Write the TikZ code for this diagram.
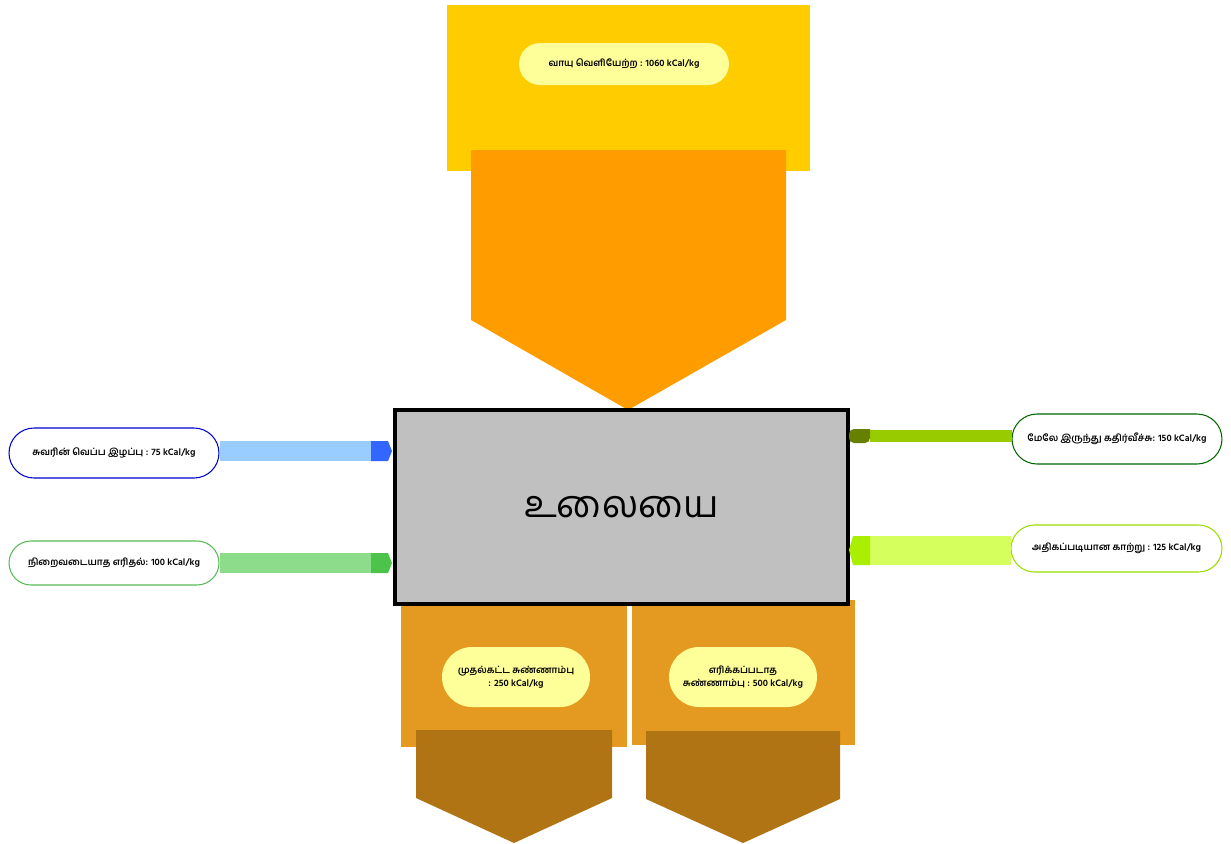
\documentclass[tikz,border=0pt]{standalone}
\usepackage{fontspec}
\newfontfamily\tamil[Script=Tamil]{Hind Madurai}
\usetikzlibrary{positioning}

\definecolor{furnyellow}{HTML}{FFCC00}
\definecolor{furnorange}{HTML}{FF9C00}
\definecolor{pillyellow}{HTML}{FFFF99}
\definecolor{furngrey}{HTML}{C0C0C0}
\definecolor{limeochre}{HTML}{E49A20}
\definecolor{limebrown}{HTML}{B07414}
\definecolor{wallshaft}{HTML}{99CCFF}
\definecolor{wallhead}{HTML}{3366FF}
\definecolor{wallline}{HTML}{0000CC}
\definecolor{burnshaft}{HTML}{8CDC8C}
\definecolor{burnhead}{HTML}{4CC44C}
\definecolor{burnline}{HTML}{55BB55}
\definecolor{radshaft}{HTML}{99CC00}
\definecolor{radhead}{HTML}{668000}
\definecolor{radline}{HTML}{006600}
\definecolor{airshaft}{HTML}{D4FF5C}
\definecolor{airhead}{HTML}{AAEE00}
\definecolor{airline}{HTML}{99DD00}

\begin{document}
\begin{tikzpicture}[x=0.02cm, y=-0.02cm,
    pill/.style={rectangle, draw, line width=0.6pt, fill=white, minimum width=4.2cm, minimum height=0.96cm, rounded corners=0.48cm, inner sep=1pt, align=center, font=\tamil\bfseries\fontsize{5.4}{7.2}\selectfont},
    lime/.style={pill, draw=none, fill=pillyellow, minimum width=2.96cm, minimum height=1.2cm, rounded corners=0.6cm}]
    \useasboundingbox (0,0) rectangle (1231,843);

    \fill[furnyellow] (447,5) rectangle (810,171);
    \node (gas) [pill, draw=none, fill=pillyellow, minimum height=0.84cm, rounded corners=0.42cm] at (624,64) {வாயு வெளியேற்ற : 1060 kCal/kg};
    \fill[furnorange] (471,150) -- (786,150) -- (786,320) -- (628,410) -- (471,320) -- cycle;

    \fill[limeochre] (401,604) rectangle (627,747);
    \fill[limeochre] (632,600) rectangle (855,745);

    \node (furnace) [rectangle, draw, line width=1.8pt, fill=furngrey, minimum width=9.06cm, minimum height=3.88cm, inner sep=0pt, font=\tamil\fontsize{21.5}{26}\selectfont] at (621.5,507) {\raisebox{-0.2ex}{உலையை}};

    \node (calc) [lime] at (516,677) {முதல்கட்ட சுண்ணாம்பு \\ : 250 kCal/kg};
    \node (raw) [lime] at (743,677) {எரிக்கப்படாத \\ சுண்ணாம்பு : 500 kCal/kg};
    \fill[limebrown] (416,730) -- (612,730) -- (612,798) -- (514,843) -- (416,798) -- cycle;
    \fill[limebrown] (646,731) -- (840,731) -- (840,799) -- (743,843) -- (646,799) -- cycle;

    \node (wall) [pill, draw=wallline, minimum height=1cm, rounded corners=0.5cm] at (114,453) {சுவரின் வெப்ப இழப்பு : 75 kCal/kg};
    \node (burn) [pill, draw=burnline, minimum height=0.88cm, rounded corners=0.44cm] at (114,563) {நிறைவடையாத எரிதல்: 100 kCal/kg};
    \node (rad) [pill, draw=radline, minimum height=1cm, rounded corners=0.5cm] at (1117,439) {மேலே இருந்து கதிர்வீச்சு: 150 kCal/kg};
    \node (air) [pill, draw=airline, minimum width=4.22cm, minimum height=0.94cm, rounded corners=0.47cm] at (1116.5,548.5) {அதிகப்படியான காற்று : 125 kCal/kg};

    \draw[wallshaft, line width=0.4cm] ([yshift=0.04cm]wall.east) -- ([yshift=0.04cm]wall.east -| 371,0);
    \fill[wallhead] (371,441) -- (388,441) -- (392,451) -- (388,461) -- (371,461) -- cycle;
    \draw[burnshaft, line width=0.4cm] (burn.east) -- (burn.east -| 371,0);
    \fill[burnhead] (371,553) -- (388,553) -- (392,563) -- (388,573) -- (371,573) -- cycle;
    \draw[radshaft, line width=0.24cm] ([yshift=0.06cm]rad.west) -- ([yshift=0.06cm]rad.west -| 870,0);
    \fill[radhead, rounded corners=0.1cm] (870,429) -- (849,429) -- (849,443) -- (870,443) [sharp corners] -- cycle;
    \draw[airshaft, line width=0.58cm] ([yshift=-0.03cm]air.west) -- ([yshift=-0.03cm]air.west -| 870,0);
    \fill[airhead] (870,536) -- (853,536) -- (849,550) -- (853,565) -- (870,565) -- cycle;
\end{tikzpicture}
\end{document}
